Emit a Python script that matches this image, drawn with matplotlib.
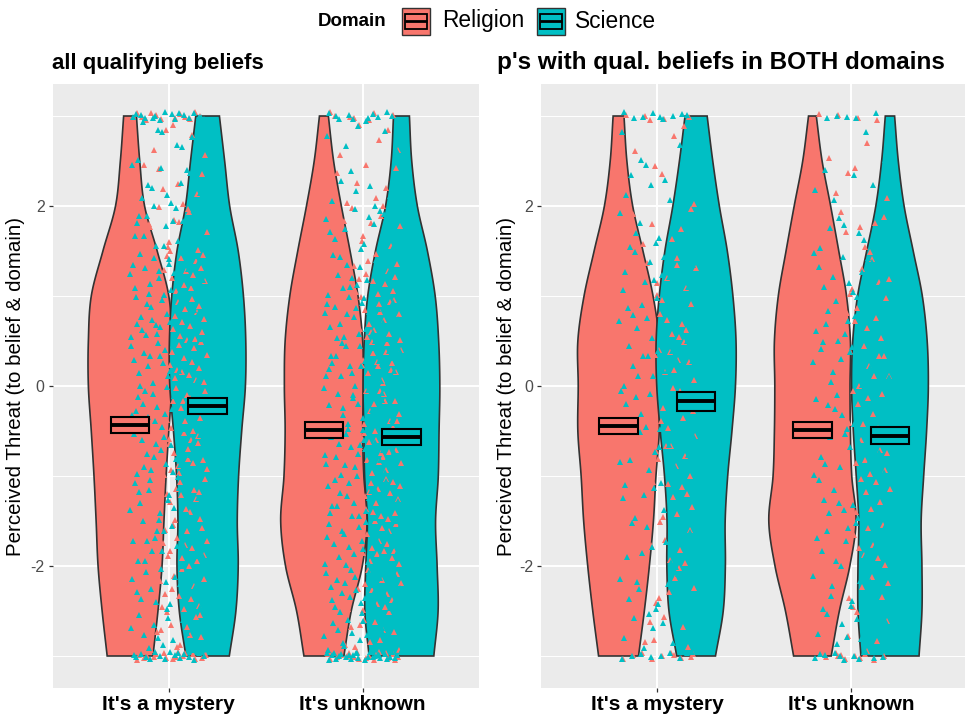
import numpy as np
import matplotlib
matplotlib.use("Agg")
import matplotlib.pyplot as plt
from matplotlib.patches import Polygon, Rectangle

plt.rcParams['font.family'] = ['Liberation Sans', 'DejaVu Sans']
plt.rcParams['axes.unicode_minus'] = False

# ---- data ----
categories = ["It's a mystery", "It's unknown"]
domains = ["Religion", "Science"]
panel_titles = ["all qualifying beliefs", "p's with qual. beliefs in BOTH domains"]
colors = ["#F8766D", "#00BFC4"]

# violin half-widths (x units) at these threat levels, top to bottom
width_levels = [3.0, 2.5, 2.0, 1.5, 1.0, 0.5, 0.0, -0.5, -1.0, -1.5, -2.0, -2.5, -3.0]

w_all_mystery_rel = [0.033, 0.050, 0.075, 0.140, 0.200, 0.215, 0.215, 0.200, 0.186, 0.175, 0.165, 0.144, 0.118]
w_all_mystery_sci = [0.061, 0.088, 0.114, 0.158, 0.185, 0.197, 0.195, 0.176, 0.160, 0.153, 0.158, 0.146, 0.112]
w_all_unknown_rel = [0.023, 0.050, 0.090, 0.135, 0.176, 0.200, 0.204, 0.200, 0.206, 0.223, 0.198, 0.141, 0.103]
w_all_unknown_sci = [0.041, 0.053, 0.082, 0.134, 0.174, 0.192, 0.198, 0.194, 0.190, 0.176, 0.184, 0.189, 0.167]

w_both_mystery_rel = [0.028, 0.043, 0.073, 0.126, 0.178, 0.210, 0.208, 0.210, 0.193, 0.180, 0.159, 0.133, 0.103]
w_both_mystery_sci = [0.057, 0.086, 0.120, 0.161, 0.190, 0.206, 0.203, 0.185, 0.163, 0.150, 0.151, 0.140, 0.100]
w_both_unknown_rel = [0.020, 0.050, 0.094, 0.136, 0.176, 0.196, 0.194, 0.196, 0.203, 0.225, 0.193, 0.139, 0.097]
w_both_unknown_sci = [0.024, 0.043, 0.073, 0.120, 0.167, 0.192, 0.198, 0.189, 0.174, 0.161, 0.165, 0.165, 0.150]

# responses per bin: [at 3, (2.5,3], ... , (-3,-2.5], at -3]
bin_edges = [3.0, 2.5, 2.0, 1.5, 1.0, 0.5, 0.0, -0.5, -1.0, -1.5, -2.0, -2.5, -3.0]

n_all_mystery_rel = [12, 6, 8, 14, 24, 28, 30, 29, 27, 24, 23, 20, 17, 18]
n_all_mystery_sci = [16, 9, 12, 18, 24, 27, 27, 25, 22, 19, 19, 19, 17, 15]
n_all_unknown_rel = [7, 5, 8, 13, 20, 26, 27, 27, 27, 30, 29, 22, 15, 20]
n_all_unknown_sci = [9, 7, 8, 13, 20, 25, 26, 26, 25, 23, 24, 25, 24, 26]

n_both_mystery_rel = [5, 3, 4, 7, 12, 15, 16, 16, 15, 13, 12, 10, 9, 9]
n_both_mystery_sci = [8, 5, 7, 10, 13, 15, 15, 13, 11, 10, 10, 10, 9, 8]
n_both_unknown_rel = [3, 3, 5, 8, 11, 13, 14, 14, 15, 17, 15, 11, 8, 10]
n_both_unknown_sci = [4, 3, 5, 8, 12, 14, 15, 14, 13, 12, 12, 12, 11, 11]

# mean and standard error of threat per category, [Religion, Science]
mean_all = [[-0.43, -0.22], [-0.49, -0.565]]
se_all = [[0.087, 0.089], [0.087, 0.085]]
mean_both = [[-0.44, -0.17], [-0.49, -0.55]]
se_both = [[0.090, 0.105], [0.091, 0.095]]

panels = [
    dict(title=panel_titles[0], title_size=16,
         widths=[[w_all_mystery_rel, w_all_mystery_sci], [w_all_unknown_rel, w_all_unknown_sci]],
         counts=[[n_all_mystery_rel, n_all_mystery_sci], [n_all_unknown_rel, n_all_unknown_sci]],
         mean=mean_all, se=se_all),
    dict(title=panel_titles[1], title_size=17.5,
         widths=[[w_both_mystery_rel, w_both_mystery_sci], [w_both_unknown_rel, w_both_unknown_sci]],
         counts=[[n_both_mystery_rel, n_both_mystery_sci], [n_both_unknown_rel, n_both_unknown_sci]],
         mean=mean_both, se=se_both),
]

W, H = 965, 719
DODGE = 0.2


def smooth_profile(levels, widths, per=16):
    # Catmull-Rom curve through the half-widths
    y = np.asarray(levels, float)[::-1]
    w = np.asarray(widths, float)[::-1]
    p = np.concatenate([[2 * w[0] - w[1]], w, [2 * w[-1] - w[-2]]])
    ys, ws = [], []
    for i in range(len(w) - 1):
        p0, p1, p2, p3 = p[i], p[i + 1], p[i + 2], p[i + 3]
        for t in np.linspace(0, 1, per, endpoint=False):
            ws.append(0.5 * (2 * p1 + (-p0 + p2) * t + (2 * p0 - 5 * p1 + 4 * p2 - p3) * t ** 2
                             + (-p0 + 3 * p1 - 3 * p2 + p3) * t ** 3))
            ys.append(y[i] + (y[i + 1] - y[i]) * t)
    ys.append(y[-1])
    ws.append(w[-1])
    return np.array(ys), np.clip(np.array(ws), 0.004, None)


def van_der_corput(n, base):
    q, denom = 0.0, 1.0
    while n > 0:
        n, r = divmod(n, base)
        denom *= base
        q += r / denom
    return q


def point_positions(counts, seed):
    # spread each bin's responses with a Halton layout (bases 2 and 3)
    xs, ys = [], []
    idx = seed * 97
    for k in range(len(counts)):
        for j in range(counts[k]):
            idx += 1
            u = van_der_corput(idx, 2)
            v = van_der_corput(idx, 3)
            xs.append((u - 0.5) * 0.4)
            if k == 0:
                ys.append(3.0 + (v - 0.5) * 0.09)
            elif k == len(counts) - 1:
                ys.append(-3.0 + (v - 0.5) * 0.09)
            else:
                hi, lo = bin_edges[k - 1], bin_edges[k]
                ys.append(lo + v * (hi - lo))
    return np.array(xs), np.array(ys)


fig = plt.figure(figsize=(W / 100, H / 100), dpi=100)

axes_px = [(52.5, 426.5), (541.0, 426.5)]
title_x = [52.5, 497.0]
ylabel_x = [16.0, 506.0]
top_px, bot_px = 84.5, 687.5

for pi, panel in enumerate(panels):
    left, width = axes_px[pi]
    ax = fig.add_axes([left / W, (H - bot_px) / H, width / W, (bot_px - top_px) / H])
    ax.set_facecolor("#EBEBEB")
    for s in ax.spines.values():
        s.set_visible(False)
    ax.set_xlim(0.4, 2.6)
    ax.set_ylim(-3.35, 3.35)
    ax.set_yticks([-2, 0, 2])
    ax.set_yticks([-3, -1, 1, 3], minor=True)
    ax.set_xticks([1, 2])
    ax.set_xticklabels(categories, fontsize=15, fontweight='bold', color='black')
    ax.set_yticklabels(["-2", "0", "2"], fontsize=11.5, color='#4D4D4D')
    ax.tick_params(axis='both', which='major', length=3.2, width=0.9, color='#333333', pad=2.5)
    ax.tick_params(axis='y', which='minor', length=0)
    ax.grid(True, which='major', color='white', linewidth=1.4)
    ax.grid(True, which='minor', axis='y', color='white', linewidth=0.7)
    ax.set_axisbelow(True)

    for ci in range(len(categories)):
        for di in range(len(domains)):
            center = ci + 1 + (-DODGE if di == 0 else DODGE)
            ys, ws = smooth_profile(width_levels, panel['widths'][ci][di])
            verts = np.concatenate([np.column_stack([center + ws, ys]),
                                    np.column_stack([center - ws[::-1], ys[::-1]])])
            ax.add_patch(Polygon(verts, closed=True, facecolor=colors[di],
                                 edgecolor='#333333', linewidth=1.2, zorder=2))

        for di in range(len(domains)):
            dx, ys = point_positions(panel['counts'][ci][di], seed=pi * 4 + ci * 2 + di + 1)
            ax.plot(ci + 1 + dx, ys, linestyle='none', marker='^', markersize=3.9,
                    markeredgewidth=0, color=colors[di], zorder=3)

        for di in range(len(domains)):
            center = ci + 1 + (-DODGE if di == 0 else DODGE)
            m = panel['mean'][ci][di]
            se = panel['se'][ci][di]
            ax.add_patch(Rectangle((center - 0.1, m - se), 0.2, 2 * se, facecolor=colors[di],
                                   edgecolor='black', linewidth=1.5, zorder=4))
            ax.plot([center - 0.1, center + 0.1], [m, m], color='black', linewidth=2.8,
                    solid_capstyle='butt', zorder=5)

    fig.text(title_x[pi] / W, 1 - 63 / H, panel['title'], fontsize=panel['title_size'],
             fontweight='bold', ha='left', va='center')
    fig.text(ylabel_x[pi] / W, 1 - 386 / H, "Perceived Threat (to belief & domain)",
             fontsize=14.8, rotation=90, ha='center', va='center')

# legend strip along the top
lg = fig.add_axes([0, 1 - 45 / H, 1, 45 / H])
lg.set_xlim(0, W)
lg.set_ylim(45, 0)
lg.axis('off')
lg.text(318, 21, "Domain", fontsize=13.5, fontweight='bold', va='center', ha='left')
key_x = [402, 537]
label_x = [442, 575]
for di, name in enumerate(domains):
    kx = key_x[di]
    lg.add_patch(Rectangle((kx, 7.5), 27.5, 27.5, facecolor=colors[di], edgecolor='#333333', linewidth=1.0))
    lg.add_patch(Rectangle((kx + 2.5, 13.5), 22.5, 15, facecolor='none', edgecolor='black', linewidth=1.3))
    lg.plot([kx + 2.5, kx + 25], [21, 21], color='black', linewidth=2.0, solid_capstyle='butt')
    lg.text(label_x[di], 21, name, fontsize=16.4, va='center', ha='left')

fig.savefig("out.png", dpi=100)
